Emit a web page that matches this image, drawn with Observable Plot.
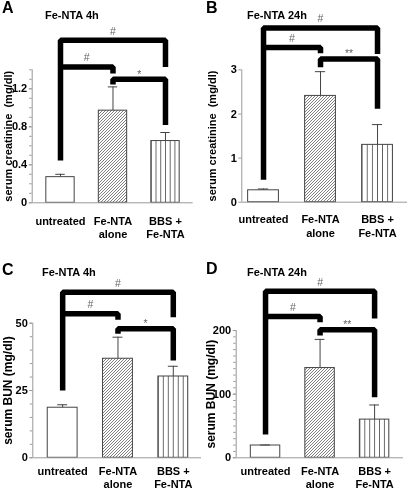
<!DOCTYPE html>
<html><head><meta charset="utf-8">
<script src="https://cdn.jsdelivr.net/npm/d3@7"></script>
<script src="https://cdn.jsdelivr.net/npm/@observablehq/plot@0.6"></script>
<style>
body{margin:0;background:#fff;}
#fig{position:relative;width:408px;height:492px;font-family:"Liberation Sans",Arial,sans-serif;color:#000;}
.panel{position:absolute;width:204px;height:246px;}
.letter{position:absolute;font-size:16px;font-weight:bold;line-height:16px;}
.title{position:absolute;font-size:11px;font-weight:bold;line-height:11px;white-space:nowrap;}
svg text{white-space:pre;}
svg{will-change:transform;}
</style></head><body>
<svg width="0" height="0" style="position:absolute">
<defs>
<pattern id="diag" patternUnits="userSpaceOnUse" width="3" height="3"><path d="M-0.75,0.75 L0.75,-0.75 M0,3 L3,0 M2.25,3.75 L3.75,2.25" stroke="#555" stroke-width="0.75"/></pattern>
<pattern id="vstripe" patternUnits="objectBoundingBox" width="0.16667" height="1"><line x1="0" y1="0" x2="0" y2="2000" stroke="#444" stroke-width="1.6"/></pattern>
</defs></svg>
<div id="fig"></div>
<script>
// ---- data ----
const categories = ["untreated", "Fe-NTA\nalone", "BBS +\nFe-NTA"];

const creatinine4h = [0.27, 0.97, 0.65];
const creatinine4hErr = [0.03, 0.25, 0.09];
const creatinine24h = [0.27, 2.41, 1.30];
const creatinine24hErr = [0.03, 0.55, 0.46];
const bun4h = [18.6, 36.8, 30.2];
const bun4hErr = [1.1, 8.0, 3.8];
const bun24h = [19.3, 141, 60];
const bun24hErr = [0.8, 45, 23];

// brackets: from category, to category, height, left-end, right-end, label
const creatinine4hBrackets = [
  {from: 0, to: 2, y: 1.71, yFrom: 0.445, yTo: 1.43, label: "#"},
  {from: 0, to: 1, y: 1.43, yFrom: 1.43, yTo: 1.36, label: "#"},
  {from: 1, to: 2, y: 1.30, yFrom: 1.245, yTo: 0.82, label: "*"}
];
const creatinine24hBrackets = [
  {from: 0, to: 2, y: 3.95, yFrom: 0.51, yTo: 3.36, label: "#"},
  {from: 0, to: 1, y: 3.51, yFrom: 3.51, yTo: 3.38, label: "#"},
  {from: 1, to: 2, y: 3.25, yFrom: 3.06, yTo: 2.12, label: "**"}
];
const bun4hBrackets = [
  {from: 0, to: 2, y: 61.5, yFrom: 25.0, yTo: 52.2, label: "#"},
  {from: 0, to: 1, y: 53.5, yFrom: 53.5, yTo: 51.3, label: "#"},
  {from: 1, to: 2, y: 47.9, yFrom: 46.1, yTo: 36.1, label: "*"}
];
const bun24hBrackets = [
  {from: 0, to: 2, y: 261.5, yFrom: 36.6, yTo: 219, label: "#"},
  {from: 0, to: 1, y: 222, yFrom: 222, yTo: 213, label: "#"},
  {from: 1, to: 2, y: 201, yFrom: 192, yTo: 95, label: "**"}
];

const creatinine4hTicks = [0, 0.4, 0.8, 1.2];
const creatinine24hTicks = [0, 1, 2, 3];
const bun4hTicks = [0, 25, 50];
const bun24hTicks = [0, 100, 200];

// ---- layout / style ----
const fills = ["white", "url(#diag)", "url(#vstripe)"];
const panels = [
  {letter: "A", title: "Fe-NTA 4h", ylabel: "serum creatinine  (mg/dl)", values: creatinine4h, errors: creatinine4hErr,
   brackets: creatinine4hBrackets, ticks: creatinine4hTicks, minor: d3.range(0, 1.401, 0.1), yMax: 1.4,
   left: 0, top: 0, mt: 69.3, mb: 43.7, ml: 31.7, mr: 11.3, xd: [-0.539, 2.528], pad: 12,
   letterTop: 0, titleTop: 10, titleLeft: 45, labelDx: -24, labelSize: 11},
  {letter: "B", title: "Fe-NTA 24h", ylabel: "serum creatinine  (mg/dl)", values: creatinine24h, errors: creatinine24hErr,
   brackets: creatinine24hBrackets, ticks: creatinine24hTicks, minor: [], yMax: 3,
   left: 204, top: 0, mt: 69.4, mb: 44.3, ml: 37.3, mr: 1, xd: [-0.381, 2.526], pad: 11,
   letterTop: 0, titleTop: 10, titleLeft: 43, labelDx: -29, labelSize: 11},
  {letter: "C", title: "Fe-NTA 4h", ylabel: "serum BUN (mg/dl)", values: bun4h, errors: bun4hErr,
   brackets: bun4hBrackets, ticks: bun4hTicks, minor: d3.range(0, 50.1, 5), yMax: 50,
   left: 0, top: 246, mt: 76.7, mb: 34.7, ml: 32.3, mr: 3, xd: [-0.54, 2.51], pad: 7,
   letterTop: 16, titleTop: 21, titleLeft: 42, labelDx: -25, labelSize: 12},
  {letter: "D", title: "Fe-NTA 24h", ylabel: "serum BUN (mg/dl)", values: bun24h, errors: bun24hErr,
   brackets: bun24hBrackets, ticks: bun24hTicks, minor: d3.range(0, 200.1, 10), yMax: 200,
   left: 204, top: 246, mt: 84, mb: 34.7, ml: 31.7, mr: 5, xd: [-0.538, 2.53], pad: 7,
   letterTop: 15, titleTop: 21, titleLeft: 43, labelDx: -25, labelSize: 12}
];

const FONT = '"Liberation Sans", Arial, sans-serif';
const fig = document.getElementById("fig");

for (const p of panels) {
  const rows = categories.map((c, i) => ({i, c, v: p.values[i], e: p.errors[i], fill: fills[i]}));
  const pts = p.brackets.flatMap((b, k) => [
    {k, x: b.from, y: b.yFrom}, {k, x: b.from, y: b.y}, {k, x: b.to, y: b.y}, {k, x: b.to, y: b.yTo}
  ]);
  const lbl = p.brackets.map(b => ({x: (b.from + b.to) / 2, y: b.y, t: b.label}));

  const chart = Plot.plot({
    width: 204, height: 246,
    marginTop: p.mt, marginBottom: p.mb, marginLeft: p.ml, marginRight: p.mr,
    x: {type: "linear", domain: p.xd},
    y: {domain: [0, p.yMax]},
    color: {type: "identity"},
    style: {fontFamily: FONT, background: "transparent", overflow: "visible", color: "#000"},
    marks: [
      Plot.axisY({ticks: p.minor, tickSize: 2.5, tickFormat: () => "", stroke: "#999"}),
      Plot.axisY({ticks: p.ticks, tickSize: 3, tickPadding: 2, tickFormat: d => String(d), stroke: "#999", fill: "#000", fontSize: 11, fontWeight: "bold"}),
      Plot.axisX({ticks: [0, 1, 2], tickSize: 0, tickPadding: p.pad, tickFormat: i => categories[i],
        fontSize: 11, fontWeight: "bold", lineHeight: 1.25, fill: "#000"}),
      Plot.ruleX([p.xd[0]], {y1: 0, y2: p.yMax, stroke: "#999"}),
      Plot.rect(rows, {x1: d => d.i - 0.27, x2: d => d.i + 0.27, y1: 0, y2: "v", fill: "fill", stroke: "#444", strokeWidth: 1}),
      Plot.ruleX(rows, {x: "i", y1: "v", y2: d => d.v + d.e, stroke: "#444"}),
      Plot.ruleY(rows, {y: d => d.v + d.e, x1: d => d.i - 0.09, x2: d => d.i + 0.09, stroke: "#444"}),
      Plot.ruleY([0], {stroke: "#999"}),
      Plot.line(pts, {x: "x", y: "y", z: "k", stroke: "#000", strokeWidth: 5.5, strokeLinejoin: "miter", strokeLinecap: "butt"}),
      Plot.text(lbl.filter(d => d.t === "#"), {x: "x", y: "y", text: "t", dy: -9, fill: "#666", fontSize: 10.5}),
      Plot.text(lbl.filter(d => d.t !== "#"), {x: "x", y: "y", text: "t", dy: -5, fill: "#666", fontSize: 10.5}),
      Plot.text([p.ylabel], {text: d => d, frameAnchor: "left", rotate: -90, dx: p.labelDx, textAnchor: "middle", lineAnchor: "middle",
        fontSize: p.labelSize, fontWeight: "bold", fill: "#000"})
    ]
  });

  const div = document.createElement("div");
  div.className = "panel";
  div.style.left = p.left + "px";
  div.style.top = p.top + "px";
  chart.style.position = "absolute";
  chart.style.left = "0px";
  chart.style.top = "0px";
  div.appendChild(chart);

  const L = document.createElement("div");
  L.className = "letter";
  L.textContent = p.letter;
  L.style.left = "2px";
  L.style.top = p.letterTop + "px";
  div.appendChild(L);

  const T = document.createElement("div");
  T.className = "title";
  T.textContent = p.title;
  T.style.left = p.titleLeft + "px";
  T.style.top = p.titleTop + "px";
  div.appendChild(T);

  fig.appendChild(div);
}
</script>
</body></html>
